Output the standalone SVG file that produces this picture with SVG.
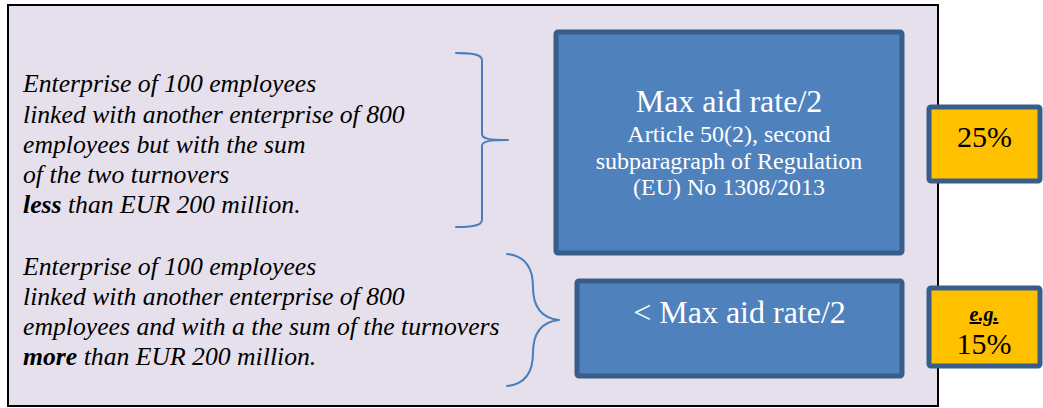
<svg xmlns="http://www.w3.org/2000/svg" width="1043" height="408" viewBox="0 0 1043 408">
  <style>
    .cond { font-family: "Liberation Serif", "Times New Roman", serif; font-style: italic; font-size: 25.7px; fill: #000; }
    .b { font-weight: bold; }
    .box { fill: #4F81BD; stroke: #385D8A; stroke-width: 5; }
    .rate { fill: #FFC000; stroke: #385D8A; stroke-width: 5; }
    .wt { font-family: "Liberation Serif", "Times New Roman", serif; fill: #FFFFFF; text-anchor: middle; }
    .bt { font-family: "Liberation Serif", "Times New Roman", serif; fill: #000; text-anchor: middle; }
    .brace { fill: none; stroke: #4A7EBB; stroke-width: 2; stroke-linecap: round; stroke-linejoin: round; }
  </style>
  <rect id="frame" x="8" y="5" width="930" height="401" fill="#E5E0EC" stroke="#000" stroke-width="2"/>

  <g id="cond-less">
    <text class="cond" x="23" y="92">Enterprise of 100 employees</text>
    <text class="cond" x="23" y="122.5">linked with another enterprise of 800</text>
    <text class="cond" x="23" y="153">employees but with the sum</text>
    <text class="cond" x="23" y="183">of the two turnovers</text>
    <text class="cond" x="23" y="213"><tspan class="b">less</tspan> than EUR 200 million.</text>
  </g>

  <g id="cond-more">
    <text class="cond" x="23" y="275">Enterprise of 100 employees</text>
    <text class="cond" x="23" y="305">linked with another enterprise of 800</text>
    <text class="cond" x="23" y="335">employees and with a the sum of the turnovers</text>
    <text class="cond" x="23" y="365"><tspan class="b">more</tspan> than EUR 200 million.</text>
  </g>

  <g id="connectors">
    <path class="brace" d="M456,53 C470,53 482,54 482,60 L482,134 C482,139 490,140 508,140 C490,140 482,141 482,146 L482,220 C482,226 470,227 456,227"/>
    <path class="brace" d="M507,254 C527,256 533,270 533,287 C533,305 540,318 559,320 C540,322 533,335 533,353 C533,370 527,384 507,386"/>
  </g>

  <g id="max-rate">
    <rect class="box" x="556" y="32" width="346" height="221" rx="2"/>
    <text class="wt" x="729" y="112" font-size="32">Max aid rate/2</text>
    <text class="wt" x="729" y="142" font-size="24">Article 50(2), second</text>
    <text class="wt" x="729" y="168.5" font-size="24">subparagraph of Regulation</text>
    <text class="wt" x="729" y="195" font-size="24">(EU) No 1308/2013</text>
  </g>

  <g id="less-rate">
    <rect class="box" x="577" y="281" width="325" height="95" rx="2"/>
    <text class="wt" x="739.5" y="323" font-size="32">&lt; Max aid rate/2</text>
  </g>

  <g id="rate-25">
    <rect class="rate" x="929" y="107" width="111" height="74" rx="2"/>
    <text class="bt" x="984.5" y="147" font-size="30">25%</text>
  </g>

  <g id="rate-15">
    <rect class="rate" x="929" y="288" width="111" height="78" rx="2"/>
    <text class="bt b" x="984" y="321" font-size="20" font-style="italic" text-decoration="underline">e.g.</text>
    <text class="bt" x="984" y="354" font-size="30">15%</text>
  </g>
</svg>
